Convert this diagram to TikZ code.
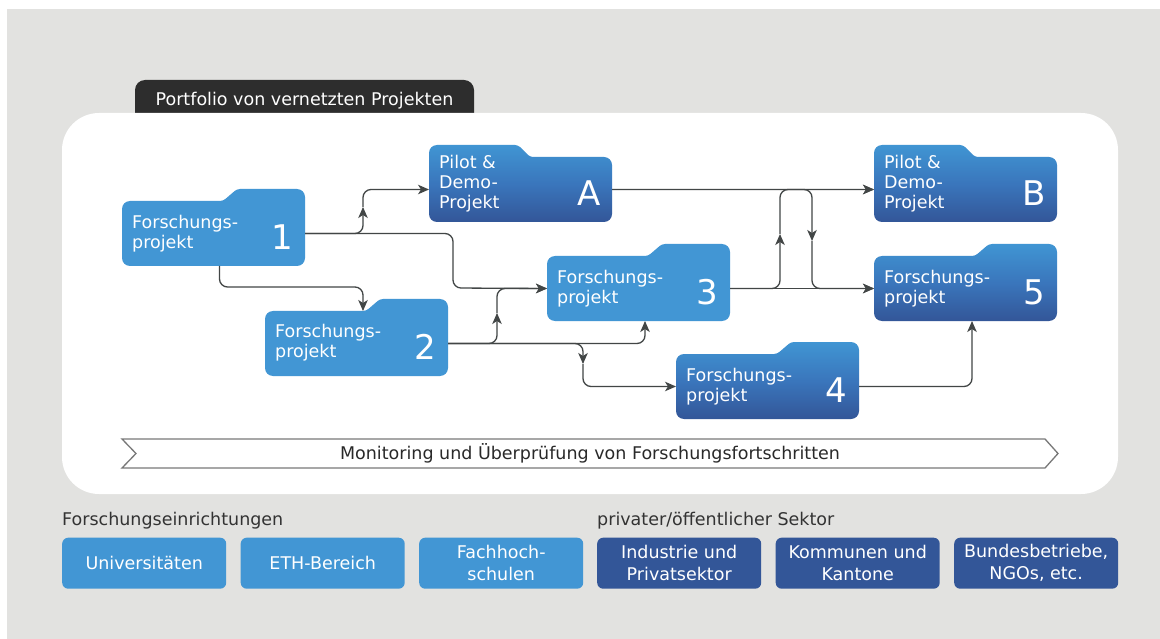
\documentclass[tikz,border=0pt]{standalone}
\usepackage{fontspec}
\setmainfont{DejaVu Sans}
\usetikzlibrary{arrows.meta,calc}
\definecolor{bggray}{RGB}{226,226,224}
\definecolor{tabdark}{RGB}{45,45,45}
\definecolor{lblue}{RGB}{66,150,212}
\definecolor{dblue}{RGB}{51,86,152}
\definecolor{gtop}{RGB}{64,149,211}
\definecolor{connc}{RGB}{66,70,70}
\definecolor{labelgray}{RGB}{51,51,51}
\definecolor{monline}{RGB}{120,120,120}

\tikzset{
  fbody/.style={rectangle, minimum width=183, minimum height=65, inner sep=0, outer sep=0},
  flatfill/.style={fill=lblue},
  gradfill/.style={shade, top color=gtop, bottom color=dblue, middle color={rgb,255:red,58;green,118;blue,188}},
  ftext/.style={anchor=north west, inner sep=0, align=left, text=white, font=\fontsize{17.5}{20}\selectfont},
  fnum/.style={anchor=base, inner sep=0, text=white, font=\fontsize{34}{34}\selectfont},
  connector/.style={draw=connc, line width=1.3, rounded corners=8},
  tipped/.style={connector, -{Stealth[length=11pt,width=9.5pt,inset=3pt]}},
  sbox/.style={anchor=north west, rectangle, rounded corners=6, minimum width=164, minimum height=51, inner sep=0, align=center, text=white, font=\fontsize{17.5}{22}\selectfont},
  lightbox/.style={sbox, fill=lblue},
  darkbox/.style={sbox, fill=dblue},
  sectorlabel/.style={anchor=base west, inner sep=0, text=labelgray, font=\fontsize{17.5}{20}\selectfont},
}

% folder with tab on the right: name, left x, tab-top y, fill style
\newcommand\folderRight[4]{%
  \path[#4] (#2,#3+42) [rounded corners=8] -- (#2,#3+12) [rounded corners=3] -- (#2+101,#3+12) -- (#2+115,#3) [rounded corners=8] -- (#2+183,#3) -- (#2+183,#3+77) -- (#2,#3+77) -- cycle;
  \node[fbody, anchor=north west] (#1) at (#2,#3+12) {};
}
% folder with tab on the left
\newcommand\folderLeft[4]{%
  \path[#4] (#2,#3+42) [rounded corners=8] -- (#2,#3) [rounded corners=3] -- (#2+89,#3) -- (#2+101,#3+12) [rounded corners=8] -- (#2+183,#3+12) -- (#2+183,#3+77) -- (#2,#3+77) -- cycle;
  \node[fbody, anchor=north west] (#1) at (#2,#3+12) {};
}

\begin{document}
\begin{tikzpicture}[x=1pt, y=-1pt]
\useasboundingbox (0,0) rectangle (1160,639);
\fill[bggray] (7,9.5) rectangle (1160,639);

% title tab and panel
\fill[tabdark, rounded corners=10] (135,80) rectangle (474,130);
\node[anchor=base, inner sep=0, text=white, font=\fontsize{17.5}{20}\selectfont] (title) at (304.5,106) {Portfolio von vernetzten Projekten};
\fill[white, rounded corners=37] (62,113) rectangle (1118,494);

% folders
\folderRight{n1}{122}{189}{flatfill}
\folderRight{n2}{265}{299}{flatfill}
\folderRight{n3}{547}{244}{flatfill}
\folderRight{n4}{676}{342}{gradfill}
\folderRight{n5}{874}{244}{gradfill}
\folderLeft{nA}{429}{145}{gradfill}
\folderLeft{nB}{874}{145}{gradfill}

% folder texts
\node[ftext] (t1) at (132,215) {Forschungs-\\projekt};
\node[ftext] (t2) at (275,324) {Forschungs-\\projekt};
\node[ftext] (t3) at (557,270) {Forschungs-\\projekt};
\node[ftext] (t4) at (686,368) {Forschungs-\\projekt};
\node[ftext] (t5) at (884,270) {Forschungs-\\projekt};
\node[ftext] (tA) at (439,155) {Pilot \&\\Demo-\\Projekt};
\node[ftext] (tB) at (884,155) {Pilot \&\\Demo-\\Projekt};

\node[fnum] (k1) at (282,249.5) {1};
\node[fnum] (k2) at (425,359.5) {2};
\node[fnum] (k3) at (707,304.5) {3};
\node[fnum] (k4) at (836,402.5) {4};
\node[fnum] (k5) at (1034,304.5) {5};
\node[fnum] (kA) at (589,205.5) {A};
\node[fnum] (kB) at (1034,205.5) {B};

% connector helper coordinates
\coordinate (a1A) at (363,207);
\coordinate (j13) at (453,288);
\coordinate (j12) at (363,287);
\coordinate (a23) at (497,313);
\coordinate (a24) at (583,364);
\coordinate (a3B) at (780,234);
\coordinate (aA5) at (812,241);

% connectors
\draw[tipped] (n1.east) -| (a1A);
\draw[tipped] (a1A) |- (nA.west);
\draw[tipped] (n1.east) -| (j13) -- (n3.west);
\draw[tipped] ([xshift=6pt]n1.south) |- (j12) -- ([xshift=6.5pt]n2.north);
\draw[tipped] (n2.east) -| (a23);
\draw[tipped] (a23) |- (n3.west);
\draw[tipped] (n2.east) -| ([xshift=6.5pt]n3.south);
\draw[tipped] (n2.east) -| (a24);
\draw[tipped] (a24) |- (n4.west);
\draw[tipped] (n3.east) -- (n5.west);
\draw[tipped] (n3.east) -| (a3B);
\draw[tipped] (a3B) |- (nB.west);
\draw[tipped] (nA.east) -- (nB.west);
\draw[tipped] (nA.east) -| (aA5);
\draw[tipped] (aA5) |- (n5.west);
\draw[tipped] (n4.east) -| ([xshift=6.5pt]n5.south);

% monitoring bar
\draw[monline, line width=1.3, fill=white, line join=miter] (122,439) -- (1045,439) -- (1058,453.5) -- (1045,468) -- (122,468) -- (136,453.5) -- cycle;
\node[anchor=base, inner sep=0, text=labelgray!80!black, font=\fontsize{17.5}{20}\selectfont] (mon) at (590,459.5) {Monitoring und Überprüfung von Forschungsfortschritten};

% sectors
\node[sectorlabel] (sec1) at (62,525) {Forschungseinrichtungen};
\node[sectorlabel] (sec2) at (597,525) {privater/öffentlicher Sektor};

\node[lightbox] (b1) at (62,537.5) {Universitäten};
\node[lightbox] (b2) at (240.5,537.5) {ETH-Bereich};
\node[lightbox] (b3) at (419,537.5) {Fachhoch-\\schulen};
\node[darkbox] (b4) at (597,537.5) {Industrie und\\Privatsektor};
\node[darkbox] (b5) at (775.5,537.5) {Kommunen und\\Kantone};
\node[darkbox] (b6) at (954,537.5) {Bundesbetriebe,\\NGOs, etc.};
\end{tikzpicture}
\end{document}
